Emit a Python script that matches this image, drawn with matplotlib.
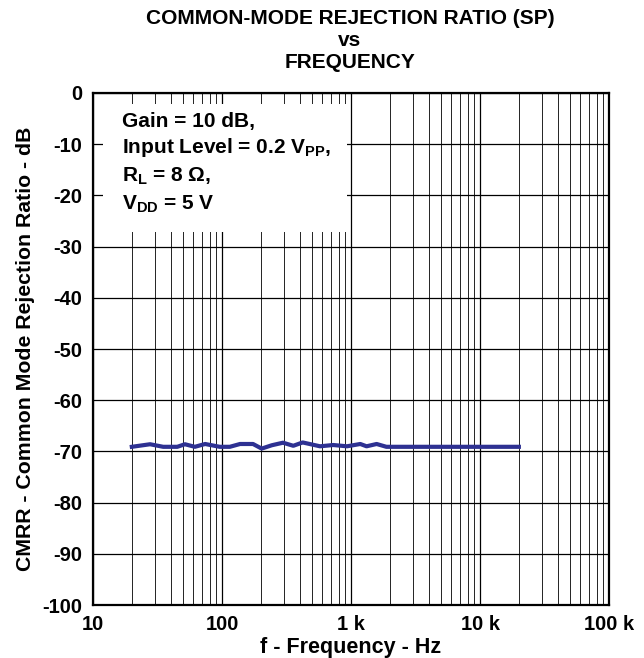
import numpy as np
import matplotlib
matplotlib.use('Agg')
import matplotlib.pyplot as plt
from matplotlib.ticker import FixedLocator, NullFormatter

plt.rcParams['font.family'] = ['Liberation Sans', 'DejaVu Sans']
plt.rcParams['font.weight'] = 'bold'
plt.rcParams['mathtext.fontset'] = 'custom'
plt.rcParams['mathtext.rm'] = 'Liberation Sans:bold'
plt.rcParams['mathtext.bf'] = 'Liberation Sans:bold'
plt.rcParams['mathtext.default'] = 'bf'

# CMRR curve
freq = [20, 27.7, 35, 45, 51.6, 61.6, 74, 96, 115, 138, 174, 203, 243, 297,
        357, 422, 575, 728, 930, 1180, 1320, 1580, 1880, 3000, 6000, 10000, 20000]
cmrr = [-69.1, -68.6, -69.1, -69.1, -68.6, -69.1, -68.55, -69.1, -69.1, -68.55, -68.55,
        -69.45, -68.8, -68.3, -68.9, -68.25, -69.0, -68.75, -69.0, -68.55, -69.0, -68.55,
        -69.1, -69.1, -69.1, -69.1, -69.1]

x_ticks = [10, 100, 1000, 10000, 100000]
x_labels = ['10', '100', '1 k', '10 k', '100 k']
y_ticks = list(range(0, -101, -10))

fig = plt.figure(figsize=(6.44, 6.58), dpi=100)
ax = fig.add_axes([0.1444, 0.0805, 0.8013, 0.7782])

ax.set_xscale('log')
ax.set_xlim(10, 100000)
ax.set_ylim(-100, 0)

ax.plot(freq, cmrr, color='#2E3192', lw=3.0, zorder=4)

ax.set_xticks(x_ticks)
ax.set_xticklabels(x_labels)
minors = [m * 10 ** d for d in range(1, 5) for m in range(2, 10)]
ax.xaxis.set_minor_locator(FixedLocator(minors))
ax.xaxis.set_minor_formatter(NullFormatter())
ax.set_yticks(y_ticks)
ax.set_yticklabels([str(v) for v in y_ticks])

ax.grid(True, which='major', color='black', lw=0.9)
ax.grid(True, which='minor', axis='x', color='black', lw=0.6)
ax.tick_params(which='both', length=0, labelsize=14.5)
ax.tick_params(axis='y', pad=8)
ax.tick_params(axis='x', pad=7)
for s in ax.spines.values():
    s.set_linewidth(1.6)

ax.set_xlabel('f - Frequency - Hz', fontsize=15.5, fontweight='bold', labelpad=2)
ax.set_ylabel('CMRR - Common Mode Rejection Ratio - dB', fontsize=15.3,
              fontweight='bold', labelpad=5)

title_lines = ['COMMON-MODE REJECTION RATIO (SP)', 'vs', 'FREQUENCY']
for t, y in zip(title_lines, [19, 40, 62]):
    fig.text(0.5435, 1 - y / 658, t, ha='center', va='center', fontsize=15,
             fontweight='bold')

# white note box
ax.add_patch(plt.Rectangle((0.0194, 0.7285), 0.4729, 0.25, transform=ax.transAxes,
                           facecolor='white', edgecolor='none', zorder=3))
notes = ['Gain = 10 dB,', r'Input Level = 0.2 V$_{\mathbf{PP}}$,',
         r'R$_{\mathbf{L}}$ = 8 $\Omega$,', r'V$_{\mathbf{DD}}$ = 5 V']
ys = [0.945, 0.893, 0.838, 0.782]
for t, y in zip(notes, ys):
    ax.text(0.056, y, t, transform=ax.transAxes, fontsize=15, fontweight='bold',
            va='center', ha='left', zorder=5)

fig.savefig('out.png', dpi=100)
